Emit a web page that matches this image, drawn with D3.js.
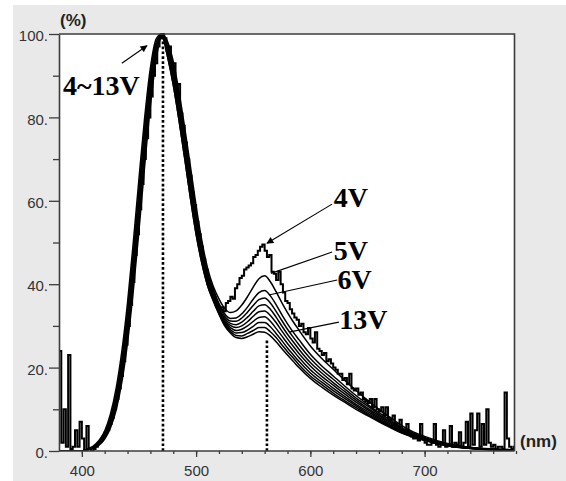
<!DOCTYPE html>
<html>
<head>
<meta charset="utf-8">
<title>EL spectra 4~13V</title>
<script src="https://cdn.jsdelivr.net/npm/d3@7/dist/d3.min.js"></script>
<style>
    body { margin: 0; background: #ffffff; }
    svg { display: block; }
</style>
</head>
<body>
<svg id="chart" width="566" height="481"></svg>
<script>
// Wavelength grid (nm) shared by the smooth curves 5V..13V
const wl = [380, 390, 400, 405, 410, 415, 420, 425, 430, 435, 440, 445, 450, 455, 460, 465, 470, 475, 480, 485, 490, 495, 500, 505, 510,
    515, 520, 525, 530, 535, 540, 545, 550, 555, 560, 565, 570, 575, 580, 585, 590, 600, 610, 620, 630, 640, 650, 660, 670, 680, 690, 700, 720, 740, 760, 780];

// Normalized EL intensity (%)
const v5 = [0, 0, 0, 0.54, 1.2, 2.5, 4.8, 8.8, 15, 23.9, 35.6, 49.9, 65.3, 80, 91.9, 98.8, 100, 98.2, 93.4, 86.2, 77.6, 68.3, 58.8, 50.5, 43.9,
    39.5, 36.5, 34.2, 33.2, 33.6, 35, 37, 39.3, 41.3, 42, 40.6, 38.2, 35.6, 33.2, 31, 29, 25.2, 22.2, 19.6, 17, 14.5, 12.2, 10, 8, 6.1, 4.6, 3.5, 1.8, 0.9, 0.5, 0.3];
const v6 = [0, 0, 0, 0.46, 1.0, 2.15, 4.2, 7.8, 13.5, 21.8, 33.1, 46.9, 62.2, 77.3, 89.9, 97.9, 99.7, 97.6, 92.2, 84.6, 75.8, 66.4, 56.9, 49, 42.7,
    38.8, 35.4, 32.9, 31.8, 31.9, 32.9, 34.5, 36.4, 38, 38.5, 37.2, 35.1, 32.7, 30.5, 28.5, 26.7, 23.2, 20.4, 18, 15.6, 13.3, 11.2, 9.2, 7.4, 5.6, 4.3, 3.2, 1.6, 0.8, 0.45, 0.27];
const v7 = [0, 0, 0, 0.32, 0.75, 1.6, 3.3, 6.2, 10.9, 18.2, 28.2, 41.1, 56, 71.4, 85.3, 95.4, 99.8, 97.6, 92.2, 84.6, 75.8, 66.4, 56.9, 49, 42.7,
    38.6, 35, 32.3, 31.2, 31.1, 31.9, 33.3, 34.9, 36.3, 36.7, 35.5, 33.5, 31.3, 29.2, 27.3, 25.5, 22.2, 19.5, 17.2, 14.9, 12.7, 10.8, 8.8, 7.1, 5.4, 4.1, 3.1, 1.6, 0.8, 0.4, 0.26];
const v8 = [0, 0, 0, 0.38, 0.88, 1.87, 3.7, 7, 12.2, 19.9, 30.6, 43.9, 59.1, 74.4, 87.7, 96.8, 100, 97, 91, 83, 74, 64.5, 55, 47.5, 41.5,
    37.8, 34.3, 31.8, 30.6, 30.3, 30.9, 32.1, 33.5, 34.8, 35.1, 34, 32.1, 30, 28, 26.2, 24.4, 21.2, 18.7, 16.4, 14.3, 12.2, 10.3, 8.5, 6.8, 5.2, 3.9, 3, 1.5, 0.75, 0.4, 0.25];
const v9 = [0, 0, 0, 0.46, 1.0, 2.15, 4.2, 7.8, 13.5, 21.8, 33.1, 46.9, 62.2, 77.3, 89.9, 97.9, 99.5, 97, 91, 83, 74, 64.5, 55, 47.5, 41.5,
    37.6, 34, 31.4, 30.1, 29.6, 30, 31, 32.3, 33.4, 33.6, 32.5, 30.8, 28.8, 26.9, 25.1, 23.4, 20.4, 17.9, 15.8, 13.7, 11.7, 9.9, 8.1, 6.5, 5, 3.8, 2.9, 1.4, 0.7, 0.38, 0.24];
const v10 = [0, 0, 0, 0.32, 0.75, 1.6, 3.3, 6.2, 10.9, 18.2, 28.2, 41.1, 56, 71.4, 85.3, 95.4, 99.6, 95.8, 89.4, 81.2, 72.1, 62.6, 53.5, 46.3, 40.6,
    37, 33.6, 31, 29.6, 28.9, 29.2, 30, 31.1, 32, 32.2, 31.1, 29.4, 27.6, 25.8, 24.1, 22.4, 19.5, 17.2, 15.1, 13.1, 11.2, 9.5, 7.8, 6.2, 4.8, 3.6, 2.8, 1.4, 0.68, 0.35, 0.23];
const v11 = [0, 0, 0, 0.38, 0.88, 1.87, 3.7, 7, 12.2, 19.9, 30.6, 43.9, 59.1, 74.4, 87.7, 96.8, 99.8, 95.8, 89.4, 81.2, 72.1, 62.6, 53.5, 46.3, 40.6,
    36.8, 33.3, 30.6, 29.1, 28.3, 28.4, 29, 29.9, 30.8, 30.8, 29.8, 28.2, 26.5, 24.7, 23.1, 21.5, 18.7, 16.5, 14.5, 12.6, 10.8, 9.1, 7.5, 6, 4.6, 3.5, 2.7, 1.3, 0.65, 0.33, 0.22];
const v12 = [0, 0, 0, 0.27, 0.64, 1.4, 2.85, 5.5, 9.8, 16.5, 26, 38.3, 52.9, 68.4, 82.7, 93.8, 99.4, 94.6, 87.8, 79.4, 70.2, 60.7, 52, 45.1, 39.7,
    36.2, 33, 30.3, 28.7, 27.7, 27.6, 28.2, 28.9, 29.6, 29.6, 28.6, 27.2, 25.5, 23.8, 22.3, 20.7, 18, 15.9, 13.9, 12.1, 10.4, 8.8, 7.2, 5.8, 4.4, 3.4, 2.6, 1.25, 0.62, 0.31, 0.21];
const v13 = [0, 0, 0, 0.32, 0.75, 1.6, 3.3, 6.2, 10.9, 18.2, 28.2, 41.1, 56, 71.4, 85.3, 95.4, 100, 94.6, 87.8, 79.4, 70.2, 60.7, 52, 45.1, 39.7,
    36, 32.8, 30, 28.3, 27.2, 27, 27.4, 28, 28.6, 28.5, 27.6, 26.2, 24.6, 23, 21.5, 20, 17.4, 15.3, 13.4, 11.7, 10, 8.5, 7, 5.6, 4.3, 3.3, 2.5, 1.2, 0.6, 0.3, 0.2];

// 4V is noisy: sampled every 2 nm from 380 to 780
const wl4 = d3.range(380, 781, 2);
const v4 = [
    24, 2, 10, 1, 23, 0.5, 1, 5, 1, 7,
    3, 0, 6, 0.5, 0, 0.5, 1, 2, 2.5, 3.5,
    4.5, 5, 6.5, 8, 10, 12.5, 15, 18, 21.5, 25.5,
    30, 35, 40.5, 47, 52, 58, 64, 70, 75, 80,
    85, 90, 93, 97, 99, 100, 99, 96, 97, 92,
    93, 86, 88, 81, 78, 74, 70, 66, 62, 59,
    55, 52, 49, 46, 43.5, 41, 39, 37.5, 36, 35,
    34, 34.5, 33.5, 35.5, 36, 37, 36.5, 39, 40, 41.5,
    42, 43.5, 44, 44.5, 45, 46.5, 47, 48, 49, 49.5,
    48, 46.5, 47, 43, 42.5, 41, 43, 40, 38, 36,
    35.5, 34, 33, 32, 31.5, 30, 30.5, 28.5, 28, 29.5,
    27, 26, 28.5, 24.5, 24, 23, 23.5, 21.5, 22, 21,
    20, 19.5, 18.5, 18.5, 17, 17.5, 16, 18.5, 15, 14.5,
    15, 13.5, 14, 12.5, 12, 11.5, 12.5, 10.5, 12.5, 10,
    9.5, 10.5, 8.5, 10.5, 8, 7.5, 8.5, 6.5, 6, 7.5,
    5, 4.5, 6.5, 4, 3.5, 3, 3.5, 2.5, 6.5, 3,
    2, 1.5, 1.5, 2, 6.5, 1.5, 1, 2, 5, 1,
    1.5, 6, 1, 2, 1.5, 4.5, 1, 2, 7, 1,
    9, 1.5, 5, 9, 1, 6.5, 1.5, 10, 2, 1,
    1.5, 0.5, 1, 1, 0.5, 14, 3, 1, 0.5, 1,
    0.5
];

const voltages = ["5V", "6V", "7V", "8V", "9V", "10V", "11V", "12V", "13V"];
const smoothValues = [v5, v6, v7, v8, v9, v10, v11, v12, v13];

// Axis ticks
const xLabels = [400, 500, 600, 700];
const yLabels = [0, 20, 40, 60, 80, 100];

// Dotted markers at the two emission peaks: [nm, top %]
const peakMarks = [[471, 99], [562, 27]];

// Annotations in data units: text anchor, leader start, leader end
const notes = [
    { text: "4~13V", tx: 383.5, ty: 85.4, from: [435, 93], to: [457, 97.2], arrow: true },
    { text: "4V", tx: 620.5, ty: 58.4, from: [619, 59.2], to: [562, 49.8], arrow: true },
    { text: "5V", tx: 620.5, ty: 45.9, from: [619, 47.7], to: [565.5, 42.6], arrow: false },
    { text: "6V", tx: 623.8, ty: 38.8, from: [623.5, 41], to: [563.7, 37.4], arrow: false },
    { text: "13V", tx: 625.2, ty: 29.2, from: [625, 30.9], to: [581.3, 28.5], arrow: false }
];

// Layout
const width = 566, height = 481;
const plot = { left: 59, right: 514.5, top: 34, bottom: 451 };
const axisColor = "#3c3c3c";

const svg = d3.select("#chart");

const x = d3.scaleLinear().domain([380, 780]).range([plot.left, 516]);
const y = d3.scaleLinear().domain([0, 100]).range([plot.bottom, plot.top]);

// Gray panel + white plot area
svg.append("rect")
    .attr("x", 13).attr("y", 5)
    .attr("width", width - 13).attr("height", height - 5)
    .attr("fill", "#e9e9e9");

svg.append("rect")
    .attr("x", plot.left).attr("y", plot.top)
    .attr("width", plot.right - plot.left).attr("height", plot.bottom - plot.top)
    .attr("fill", "#ffffff");

svg.append("defs").append("clipPath").attr("id", "clip")
    .append("rect")
    .attr("x", plot.left).attr("y", plot.top - 1)
    .attr("width", plot.right - plot.left).attr("height", plot.bottom - plot.top + 1);

svg.select("defs").append("marker")
    .attr("id", "head")
    .attr("viewBox", "0 0 10 10")
    .attr("refX", 9).attr("refY", 5)
    .attr("markerWidth", 9).attr("markerHeight", 7)
    .attr("markerUnits", "userSpaceOnUse")
    .attr("orient", "auto")
    .append("path")
    .attr("d", "M0,0L10,5L0,10z")
    .attr("fill", "#000");

// Dotted peak lines
svg.append("g")
    .selectAll("line")
    .data(peakMarks)
    .enter()
    .append("line")
    .attr("x1", d => x(d[0])).attr("x2", d => x(d[0]))
    .attr("y1", y(0)).attr("y2", d => y(d[1]))
    .attr("stroke", "#000")
    .attr("stroke-width", 2.6)
    .attr("stroke-dasharray", "2.7,2.2");

// Curves
const curves = svg.append("g").attr("clip-path", "url(#clip)");

const smoothLine = d3.line()
    .x((d, i) => x(wl[i]))
    .y(d => y(d))
    .curve(d3.curveMonotoneX);

curves.selectAll(".smooth")
    .data(smoothValues)
    .enter()
    .append("path")
    .attr("class", "smooth")
    .attr("d", smoothLine)
    .attr("fill", "none")
    .attr("stroke", "#000")
    .attr("stroke-width", 1.5);

const noisyLine = d3.line()
    .x((d, i) => x(wl4[i]))
    .y(d => y(d))
    .curve(d3.curveStepAfter);

curves.append("path")
    .datum(v4)
    .attr("d", noisyLine)
    .attr("fill", "none")
    .attr("stroke", "#000")
    .attr("stroke-width", 2);

// Frame: top and right borders
svg.append("path")
    .attr("d", `M${plot.left},${plot.top}H${plot.right}V${plot.bottom}`)
    .attr("fill", "none")
    .attr("stroke", axisColor)
    .attr("stroke-width", 1.6);

// X axis
const xMinor = d3.range(400, 781, 20);
svg.append("g")
    .attr("transform", `translate(0,${plot.bottom})`)
    .call(d3.axisBottom(x).tickValues(xMinor).tickSize(3).tickSizeOuter(0).tickFormat(""))
    .call(g => g.select(".domain").attr("d", `M${plot.left},0H${plot.right}`)
        .attr("stroke", axisColor).attr("stroke-width", 1.6));

svg.append("g")
    .attr("transform", `translate(0,${plot.bottom})`)
    .call(d3.axisBottom(x).tickValues(xLabels).tickSize(6).tickPadding(8).tickSizeOuter(0))
    .call(g => g.select(".domain").remove());

// Y axis
svg.append("g")
    .attr("transform", `translate(${plot.left},0)`)
    .call(d3.axisLeft(y).tickValues(d3.range(10, 100, 20)).tickSize(6).tickSizeOuter(0).tickFormat(""))
    .call(g => g.select(".domain").attr("stroke", axisColor).attr("stroke-width", 1.6));

svg.append("g")
    .attr("class", "y-labels")
    .attr("transform", `translate(${plot.left},0)`)
    .call(d3.axisLeft(y).tickValues(yLabels).tickSize(10).tickPadding(1).tickFormat(d => d + "."))
    .call(g => g.select(".domain").remove());

svg.selectAll(".tick line").attr("stroke", axisColor).attr("stroke-width", 1.3);
svg.selectAll(".tick text")
    .attr("fill", "#333")
    .style("font-family", "'Liberation Sans', Arial, sans-serif")
    .style("font-size", "15px");
svg.selectAll(".y-labels .tick text").attr("dy", "0.45em");

// Unit labels
svg.append("text")
    .attr("x", 60).attr("y", 26)
    .attr("fill", "#222")
    .style("font-family", "'Liberation Sans', Arial, sans-serif")
    .style("font-size", "17px").style("font-weight", "bold")
    .text("(%)");

svg.append("text")
    .attr("x", 520).attr("y", 447)
    .attr("fill", "#222")
    .style("font-family", "'Liberation Sans', Arial, sans-serif")
    .style("font-size", "17px").style("font-weight", "bold")
    .text("(nm)");

// Annotations
const noteG = svg.append("g");

noteG.selectAll("line")
    .data(notes)
    .enter()
    .append("line")
    .attr("x1", d => x(d.from[0])).attr("y1", d => y(d.from[1]))
    .attr("x2", d => x(d.to[0])).attr("y2", d => y(d.to[1]))
    .attr("stroke", "#000")
    .attr("stroke-width", 1.1)
    .attr("marker-end", d => d.arrow ? "url(#head)" : null);

noteG.selectAll("text")
    .data(notes)
    .enter()
    .append("text")
    .attr("x", d => x(d.tx)).attr("y", d => y(d.ty))
    .attr("fill", "#000")
    .style("font-family", "'Liberation Serif', 'Times New Roman', serif")
    .style("font-size", "28px").style("font-weight", "bold")
    .text(d => d.text);
</script>
</body>
</html>
